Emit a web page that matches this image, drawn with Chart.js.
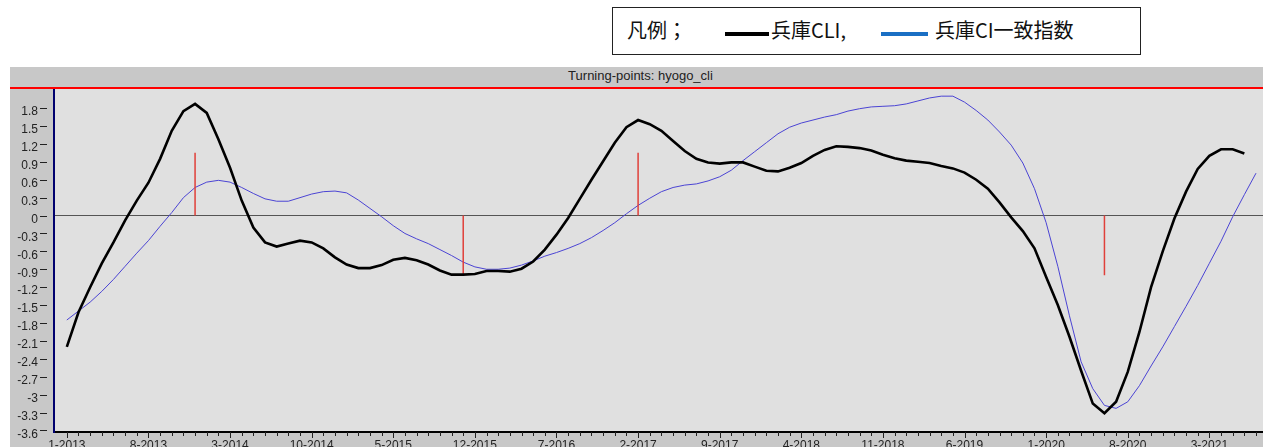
<!DOCTYPE html>
<html lang="ja">
<head>
<meta charset="utf-8">
<title>Turning-points: hyogo_cli</title>
<script src="https://cdn.jsdelivr.net/npm/chart.js@4.4.1/dist/chart.umd.min.js"></script>
<style>
  html, body { margin: 0; padding: 0; width: 1263px; height: 447px; overflow: hidden; background: #fff; }
  #legend { position: absolute; left: 612px; top: 7px; width: 529px; height: 48px; border: 1.5px solid #222;
            box-sizing: border-box; font-family: "Noto Sans CJK JP", sans-serif; font-size: 20px; color: #111; }
  #legend span { position: absolute; top: 10px; line-height: 24px; white-space: nowrap; }
  #legend i { position: absolute; top: 24px; height: 4px; }
  #panel { position: absolute; left: 10px; top: 67px; width: 1253px; height: 400px; background: #c8c8c8; }
  #title { height: 20px; border-bottom: 2px solid #ff0000; text-align: center; padding-left: 8px;
           font: 13px "Liberation Sans", Arial, sans-serif; line-height: 18px; color: #222; }
  #wrap { position: absolute; left: 0; top: 22px; width: 1253px; height: 375px; }
</style>
</head>
<body>
<div id="legend">
  <span style="left:14px">凡例；</span>
  <i style="left:112px;width:44px;background:#000"></i>
  <span style="left:158px">兵庫CLI,</span>
  <i style="left:268px;width:47px;background:#1a6fc4"></i>
  <span style="left:322px">兵庫CI一致指数</span>
</div>
<div id="panel">
  <div id="title">Turning-points: hyogo_cli</div>
  <div id="wrap"><canvas id="chart"></canvas></div>
</div>
<script>
// months counted from 1-2013 (index 0)
const xTickMonths = [0, 7, 14, 21, 28, 35, 42, 49, 56, 63, 70, 77, 84, 91, 98];
const xTickLabels = ['1-2013', '8-2013', '3-2014', '10-2014', '5-2015', '12-2015', '7-2016', '2-2017',
                     '9-2017', '4-2018', '11-2018', '6-2019', '1-2020', '8-2020', '3-2021'];
const yTickValues = [1.8, 1.5, 1.2, 0.9, 0.6, 0.3, 0, -0.3, -0.6, -0.9, -1.2, -1.5, -1.8, -2.1,
                     -2.4, -2.7, -3, -3.3, -3.6];

// 兵庫CLI, 1-2013 .. 6-2021
const cliValues = [
  -2.2, -1.62, -1.2, -0.8, -0.45, -0.08, 0.25, 0.55, 0.95, 1.42, 1.75, 1.87,
  1.72, 1.28, 0.8, 0.25, -0.2, -0.45, -0.52, -0.47, -0.42, -0.45, -0.55, -0.7,
  -0.82, -0.88, -0.88, -0.83, -0.74, -0.71, -0.75, -0.82, -0.92, -0.99, -0.99, -0.98,
  -0.93, -0.93, -0.94, -0.89, -0.77, -0.57, -0.32, -0.04, 0.28, 0.6, 0.91, 1.22,
  1.48, 1.6, 1.53, 1.42, 1.25, 1.08, 0.95, 0.89, 0.87, 0.89, 0.89, 0.82,
  0.75, 0.74, 0.8, 0.88, 1.0, 1.1, 1.16, 1.15, 1.13, 1.09, 1.02, 0.96,
  0.92, 0.9, 0.88, 0.83, 0.79, 0.72, 0.6, 0.45, 0.22, -0.03, -0.26, -0.55,
  -1.03, -1.5, -2.03, -2.6, -3.15, -3.31, -3.12, -2.62, -1.95, -1.2, -0.6, -0.05,
  0.4, 0.78, 1.0, 1.11, 1.11, 1.04
];

// 兵庫CI一致指数, 1-2013 .. 7-2021
const ciValues = [
  -1.75, -1.6, -1.45, -1.27, -1.07, -0.85, -0.63, -0.42, -0.18, 0.05, 0.3, 0.47,
  0.56, 0.59, 0.56, 0.47, 0.37, 0.28, 0.24, 0.24, 0.3, 0.36, 0.4, 0.41,
  0.38, 0.26, 0.12, -0.02, -0.17, -0.3, -0.39, -0.47, -0.57, -0.67, -0.78, -0.86,
  -0.9, -0.9, -0.88, -0.83, -0.76, -0.68, -0.62, -0.55, -0.47, -0.37, -0.25, -0.12,
  0.03, 0.17, 0.29, 0.4, 0.47, 0.51, 0.53, 0.58, 0.65, 0.76, 0.92, 1.07,
  1.22, 1.37, 1.48, 1.55, 1.6, 1.65, 1.69, 1.75, 1.79, 1.82, 1.83, 1.84,
  1.87, 1.92, 1.97, 2.0, 2.0, 1.9, 1.76, 1.6, 1.4, 1.18, 0.88, 0.45,
  -0.12, -0.85, -1.68, -2.45, -2.9, -3.18, -3.23, -3.12, -2.85, -2.52, -2.2, -1.86,
  -1.52, -1.17, -0.8, -0.43, -0.02, 0.35, 0.71
];

// turning points (red markers)
const turningMonths = [11, 34, 49, 89];
const turningLevels = [1.05, -1.0, 1.05, -1.0];

const markerPoints = [];
turningMonths.forEach(function (m, i) {
    markerPoints.push({ x: m, y: 0 }, { x: m, y: turningLevels[i] }, { x: m, y: null });
});

const axisFont = { family: '"Liberation Sans", Arial, sans-serif', size: 12 };

const panelPlugin = {
    id: 'panel',
    beforeDraw: function (chart) {
        const a = chart.chartArea, c = chart.ctx;
        c.save();
        c.fillStyle = '#e0e0e0';
        c.fillRect(a.left, a.top, a.right - a.left, a.bottom - a.top);
        c.restore();
    },
    afterDraw: function (chart) {
        const c = chart.ctx, xs = chart.scales.x, ys = chart.scales.y, a = chart.chartArea;
        c.save();
        c.strokeStyle = '#222';
        c.lineWidth = 1;
        c.beginPath();
        for (let m = 0; m <= 102; m++) {
            const px = Math.round(xs.getPixelForValue(m)) + 0.5;
            c.moveTo(px, a.bottom);
            c.lineTo(px, a.bottom + (m % 7 === 0 ? 6 : 4));
        }
        yTickValues.forEach(function (v) {
            const py = Math.round(ys.getPixelForValue(v)) + 0.5;
            c.moveTo(a.left - 14, py);
            c.lineTo(a.left - 7, py);
        });
        c.stroke();
        c.restore();
    }
};

new Chart(document.getElementById('chart'), {
    type: 'line',
    data: {
        datasets: [{
            label: '兵庫CLI',
            data: cliValues.map(function (v, i) { return { x: i, y: v }; }),
            borderColor: '#000',
            borderWidth: 2.6,
            pointRadius: 0,
            order: 0
        }, {
            label: 'turning points',
            data: markerPoints,
            borderColor: '#e0403a',
            borderWidth: 1.5,
            pointRadius: 0,
            spanGaps: false,
            order: 1
        }, {
            label: '兵庫CI一致指数',
            data: ciValues.map(function (v, i) { return { x: i, y: v }; }),
            borderColor: '#4b44d4',
            borderWidth: 1,
            pointRadius: 0,
            order: 2
        }]
    },
    options: {
        responsive: true,
        maintainAspectRatio: false,
        animation: false,
        layout: { padding: 0 },
        plugins: { legend: { display: false }, tooltip: { enabled: false } },
        scales: {
            x: {
                type: 'linear',
                min: -1.1,
                max: 102.6,
                afterBuildTicks: function (s) { s.ticks = xTickMonths.map(function (v) { return { value: v }; }); },
                afterFit: function (s) { s.height = 32; s.paddingLeft = 0; s.paddingRight = 0; },
                ticks: {
                    autoSkip: false, maxRotation: 0, padding: 6, color: '#222', font: axisFont,
                    callback: function (v) { return xTickLabels[xTickMonths.indexOf(v)]; }
                },
                grid: { display: false, drawTicks: false },
                border: { color: '#000', width: 2 }
            },
            y: {
                min: -3.626,
                max: 2.12,
                afterBuildTicks: function (s) { s.ticks = yTickValues.map(function (v) { return { value: v }; }); },
                afterFit: function (s) { s.width = 44; s.paddingTop = 0; s.paddingBottom = 0; },
                ticks: {
                    padding: 16, labelOffset: 4, color: '#222', font: axisFont,
                    callback: function (v) { return String(Math.round(v * 10) / 10); }
                },
                grid: {
                    drawTicks: false,
                    lineWidth: 1,
                    color: function (ctx) { return ctx.tick && ctx.tick.value === 0 ? '#555' : 'rgba(0,0,0,0)'; }
                },
                border: { color: '#00006e', width: 2 }
            }
        }
    },
    plugins: [panelPlugin]
});
</script>
</body>
</html>
